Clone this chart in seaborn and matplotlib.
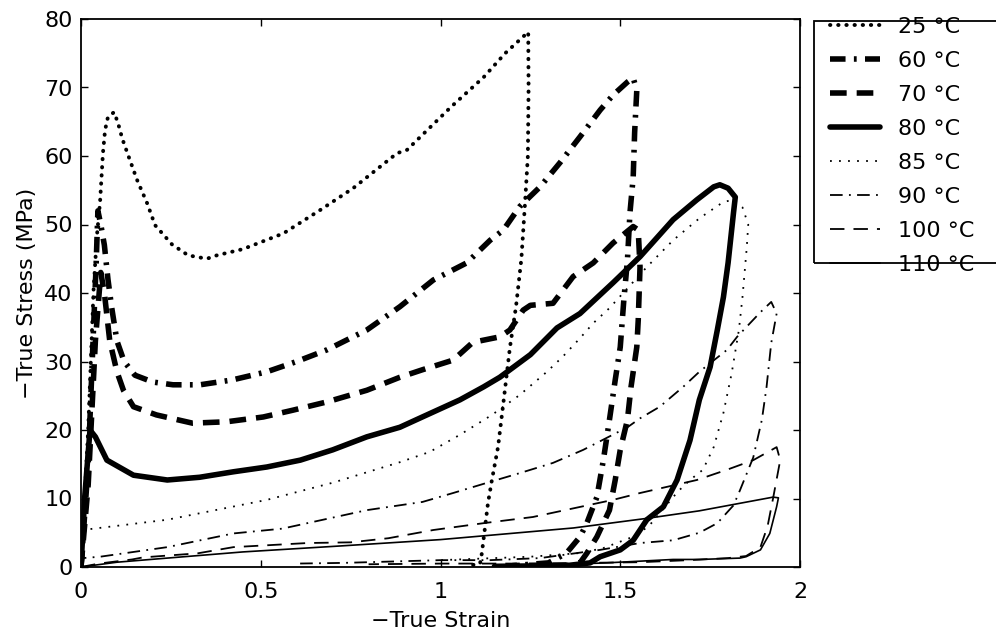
import matplotlib
matplotlib.use("Agg")
import matplotlib.pyplot as plt
from matplotlib.patches import Rectangle
import seaborn as sns

# ---------------- data ----------------
temps = ["25 °C", "60 °C", "70 °C", "80 °C", "85 °C", "90 °C", "100 °C", "110 °C"]

strain_25 = [0, 0.02, 0.035, 0.044, 0.053, 0.061, 0.067, 0.075, 0.092, 0.103, 0.115, 0.134, 0.156,
             0.184, 0.206, 0.253, 0.298, 0.35, 0.378, 0.45, 0.563, 0.665, 0.757, 0.879, 0.907, 1.03,
             1.12, 1.18, 1.244, 1.245, 1.243, 1.235, 1.225, 1.21, 1.193, 1.175, 1.16, 1.143, 1.132,
             1.122, 1.115, 1.11, 1.08]
stress_25 = [0, 20, 40.5, 48.2, 53.3, 60.4, 63.8, 65.7, 66.4, 64.8, 62.5, 59.7, 56.5,
             53.1, 49.9, 47.1, 45.5, 45.0, 45.5, 46.4, 48.7, 52.1, 55.3, 60.4, 60.9, 67.2,
             71.5, 75.0, 78.1, 70, 60, 53, 45, 38, 32, 24, 17.5, 12.7, 9.3,
             5, 2, 0.5, 0.2]

strain_60 = [0, 0.02, 0.035, 0.042, 0.047, 0.055, 0.065, 0.075, 0.085, 0.1, 0.12, 0.15, 0.2, 0.256,
             0.331, 0.42, 0.517, 0.6, 0.684, 0.795, 0.887, 0.98, 1.073, 1.138, 1.175, 1.22, 1.277,
             1.332, 1.388, 1.444, 1.48, 1.52, 1.536, 1.546, 1.54, 1.536, 1.527, 1.52, 1.51, 1.50,
             1.486, 1.47, 1.453, 1.435, 1.407, 1.388, 1.35, 1.30, 1.2]
stress_60 = [0, 15, 35, 44, 52, 50, 47, 42, 38, 33, 30, 28, 27, 26.6,
             26.6, 27.3, 28.5, 30, 31.7, 34.6, 38, 41.9, 44.4, 47.7, 49.2, 52.6, 55.5,
             59, 62.8, 66.7, 68.9, 70.8, 71.4, 69.6, 63.4, 56.9, 51.7, 44.8, 39, 32.1,
             27.3, 21.5, 15.6, 10.2, 6.4, 4.4, 2, 0.6, 0.2]

strain_70 = [0, 0.02, 0.04, 0.055, 0.065, 0.08, 0.1, 0.118, 0.146, 0.21, 0.31, 0.405, 0.507, 0.59,
             0.684, 0.795, 0.887, 0.95, 1.035, 1.09, 1.165, 1.193, 1.23, 1.25, 1.313, 1.369, 1.425,
             1.48, 1.536, 1.55, 1.555, 1.55, 1.546, 1.53, 1.52, 1.50, 1.486, 1.47, 1.435, 1.407,
             1.388, 1.35, 1.25]
stress_70 = [0, 12, 33, 43, 40, 33, 28.5, 25.8, 23.4, 22.2, 21, 21.2, 21.9, 22.9,
             24.1, 25.8, 27.7, 28.8, 30.2, 32.8, 33.6, 34.6, 37.5, 38.2, 38.5, 42.4, 44.4,
             47.3, 49.7, 49.2, 43.8, 36, 32.1, 26.3, 21.5, 17.1, 12.7, 8.3, 4.4, 2,
             0.6, 0.2, 0.1]

strain_80 = [0, 0.01, 0.025, 0.04, 0.072, 0.146, 0.24, 0.33, 0.424, 0.517, 0.61, 0.70, 0.795,
             0.887, 0.962, 1.054, 1.12, 1.165, 1.25, 1.324, 1.388, 1.48, 1.555, 1.647, 1.713,
             1.76, 1.777, 1.80, 1.82, 1.815, 1.80, 1.787, 1.77, 1.75, 1.72, 1.694, 1.658, 1.62,
             1.574, 1.536, 1.5, 1.444, 1.416, 1.35, 1.15]
stress_80 = [0, 10, 20, 19, 15.6, 13.4, 12.7, 13.1, 13.9, 14.6, 15.6, 17.1, 19,
             20.4, 22.2, 24.4, 26.3, 27.7, 31, 34.9, 37, 41.5, 45.3, 50.7, 53.6,
             55.5, 55.8, 55.3, 54, 51.7, 44.4, 39.4, 34.6, 29.2, 24.4, 18.5, 12.7, 8.8,
             6.9, 3.9, 2.5, 1.5, 0.6, 0.2, 0.1]

strain_85 = [0, 0.004, 0.24, 0.517, 0.70, 0.887, 0.97, 1.054, 1.143, 1.22, 1.296, 1.34, 1.388,
             1.425, 1.47, 1.574, 1.647, 1.72, 1.787, 1.815, 1.84, 1.856, 1.852, 1.84, 1.83, 1.81,
             1.787, 1.76, 1.73, 1.694, 1.66, 1.62, 1.58, 1.54, 1.51, 1.45, 1.38, 1.25, 1.1, 1.0]
stress_85 = [0, 5.4, 6.9, 9.8, 12.3, 15.3, 16.8, 19.3, 22.2, 25.1, 28.5, 30.7, 33.4,
             35.6, 37.8, 43.8, 47.7, 50.9, 53.3, 53.6, 52.5, 50, 46.7, 39.4, 34.6, 28.3,
             22.5, 17.5, 14.2, 12.7, 11, 8.5, 6, 4.5, 3.9, 2.7, 2, 1.5, 1.2, 1.0]

strain_90 = [0, 0.005, 0.053, 0.24, 0.424, 0.56, 0.795, 0.95, 1.035, 1.13, 1.22, 1.313, 1.397,
             1.52, 1.555, 1.61, 1.675, 1.72, 1.797, 1.825, 1.89, 1.92, 1.935, 1.92, 1.907, 1.894,
             1.87, 1.833, 1.815, 1.77, 1.72, 1.647, 1.555, 1.444, 1.277, 1.138, 1.0, 0.865,
             0.73, 0.6]
stress_90 = [0, 1.3, 1.5, 2.9, 4.9, 5.6, 8.3, 9.5, 10.8, 12.3, 13.7, 15.2, 17.1,
             20.4, 21.7, 23.4, 26.3, 28.5, 31.7, 33.6, 37.2, 38.7, 37, 32.7, 26.3, 21.5,
             16, 11.2, 9, 6.4, 5.0, 3.9, 3.5, 2.5, 1.3, 1.0, 1.0, 0.8,
             0.6, 0.5]

strain_100 = [0, 0.05, 0.142, 0.172, 0.325, 0.424, 0.63, 0.75, 0.855, 0.98, 1.12, 1.257, 1.48,
              1.555, 1.713, 1.797, 1.87, 1.935, 1.945, 1.94, 1.925, 1.91, 1.89, 1.85, 1.80, 1.69,
              1.555, 1.4, 1.2, 1.0, 0.8]
stress_100 = [0, 0.5, 1.1, 1.4, 2.0, 2.9, 3.5, 3.6, 4.2, 5.4, 6.4, 7.3, 9.8,
              10.8, 12.7, 14.2, 15.6, 17.5, 15.6, 14.2, 10, 6, 2.9, 1.6, 1.3, 1.0,
              0.7, 0.6, 0.5, 0.5, 0.4]

strain_110 = [0, 0.1, 0.45, 0.73, 1.0, 1.37, 1.574, 1.72, 1.925, 1.94, 1.935, 1.916, 1.89, 1.85,
              1.833, 1.72, 1.647, 1.536, 1.46, 1.3]
stress_110 = [0, 0.7, 2.2, 3.1, 4.0, 5.7, 7.1, 8.2, 10.2, 10.1, 8.8, 4.9, 2.5, 1.5,
              1.3, 1.1, 1.1, 0.8, 0.6, 0.3]

strains = [strain_25, strain_60, strain_70, strain_80, strain_85, strain_90, strain_100, strain_110]
stresses = [stress_25, stress_60, stress_70, stress_80, stress_85, stress_90, stress_100, stress_110]

xticks = [0, 0.5, 1, 1.5, 2]
xticklabels = ["0", "0.5", "1", "1.5", "2"]
yticks = [0, 10, 20, 30, 40, 50, 60, 70, 80]

# ---------------- styling ----------------
sns.set_style("ticks", {"xtick.direction": "in", "ytick.direction": "in",
                        "axes.edgecolor": "black", "text.color": "black",
                        "axes.labelcolor": "black", "xtick.color": "black",
                        "ytick.color": "black"})
plt.rcParams["font.family"] = ["DejaVu Sans"]
plt.rcParams["text.color"] = "black"
FS = 16

line_styles = [
    dict(linewidth=2.8, linestyle=(0, (0.1, 2.0)), dash_capstyle="round"),
    dict(linewidth=4.0, linestyle=(0, (2.8, 1.5, 0.5, 1.5))),
    dict(linewidth=4.0, linestyle=(0, (3.0, 1.8))),
    dict(linewidth=4.0, linestyle="-"),
    dict(linewidth=1.3, linestyle=(0, (1, 4))),
    dict(linewidth=1.3, linestyle=(0, (7, 3.5, 1, 3.5))),
    dict(linewidth=1.3, linestyle=(0, (8, 5))),
    dict(linewidth=1.2, linestyle="-"),
]

fig = plt.figure(figsize=(9.96, 6.42), dpi=100)
ax = fig.add_axes([81 / 996, 75 / 642, 719 / 996, 548 / 642])

for lab, xs, ys, st in zip(temps, strains, stresses, line_styles):
    sns.lineplot(x=xs, y=ys, sort=False, estimator=None, ax=ax, color="black",
                 label=lab, **st)

ax.set_xlim(0, 2)
ax.set_ylim(0, 80)
ax.set_xticks(xticks)
ax.set_xticklabels(xticklabels)
ax.set_yticks(yticks)
ax.tick_params(axis="both", which="both", direction="in", top=True, right=True,
               length=5, width=1.0, labelsize=FS, colors="black")
ax.tick_params(axis="x", pad=11)
ax.tick_params(axis="y", pad=6)
for sp in ax.spines.values():
    sp.set_linewidth(1.3)
    sp.set_color("black")

ax.set_xlabel("\u2212True Strain", fontsize=FS, labelpad=6, color="black")
ax.set_ylabel("\u2212True Stress (MPa)", fontsize=FS, labelpad=5, color="black")

handles, labels = ax.get_legend_handles_labels()
leg = ax.legend(handles, labels, loc="center left",
                bbox_to_anchor=(830 / 996, 1 - 146 / 642), bbox_transform=fig.transFigure,
                frameon=False, borderpad=0, borderaxespad=0, handlelength=2.25,
                handletextpad=0.8, labelspacing=0.63, fontsize=FS)
for t in leg.get_texts():
    t.set_color("black")

fig.add_artist(Rectangle((814 / 996, 1 - 263 / 642), 0.3, (263 - 21) / 642,
                         transform=fig.transFigure, fill=False, lw=1.3,
                         edgecolor="black", clip_on=False))

fig.savefig("out.png", dpi=100)
